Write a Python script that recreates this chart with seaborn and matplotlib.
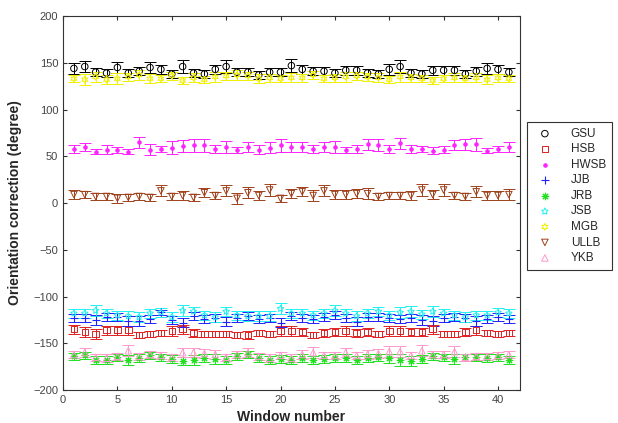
import numpy as np
import pandas as pd
import matplotlib
matplotlib.use("Agg")
import matplotlib.pyplot as plt
import seaborn as sns

sns.set_style("ticks")
plt.rcParams['font.family'] = ['Liberation Sans', 'DejaVu Sans']

windows = list(range(1, 42))

stations = ["GSU", "HSB", "HWSB", "JJB", "JRB", "JSB", "MGB", "ULLB", "YKB"]

gsu = [144, 146, 140, 139, 145, 139, 141, 145, 143, 138, 146, 139, 138, 143, 146, 140, 140, 137, 140, 140, 147,
       143, 141, 141, 139, 142, 142, 139, 138, 143, 146, 139, 138, 142, 142, 142, 138, 141, 144, 143, 140]
gsu_err = [6, 6, 4, 4, 6, 4, 4, 6, 5, 4, 7, 4, 4, 5, 7, 4, 4, 4, 4, 4, 7,
           5, 4, 4, 4, 5, 5, 4, 4, 6, 7, 4, 4, 5, 5, 5, 4, 5, 6, 5, 4]

hsb = [-135, -138, -140, -136, -136, -136, -141, -140, -139, -137, -135, -139, -140, -140, -140, -141, -141, -139, -140, -137, -137,
       -138, -141, -139, -138, -137, -139, -138, -140, -137, -137, -138, -138, -135, -140, -140, -138, -136, -139, -140, -139]
hsb_err = [5, 5, 5, 5, 5, 5, 3, 3, 3, 5, 5, 4, 3, 3, 3, 3, 4, 3, 3, 5, 5,
           4, 3, 4, 4, 5, 4, 4, 3, 5, 5, 4, 4, 5, 3, 3, 4, 5, 3, 3, 3]

hwsb = [58, 60, 55, 57, 57, 55, 65, 57, 58, 59, 61, 62, 62, 58, 60, 57, 60, 57, 59, 62, 60,
        60, 58, 60, 60, 57, 58, 63, 62, 58, 64, 58, 58, 56, 57, 62, 63, 63, 56, 58, 60]
hwsb_err = [4, 4, 3, 5, 3, 3, 6, 6, 3, 7, 6, 7, 7, 4, 6, 3, 5, 5, 6, 7, 5,
            5, 4, 5, 6, 3, 4, 6, 6, 4, 6, 4, 3, 4, 4, 5, 6, 7, 3, 3, 5]

jjb = [-123, -123, -125, -122, -122, -126, -126, -124, -117, -125, -128, -121, -124, -123, -127, -123, -121, -124, -123, -128, -121,
       -123, -124, -122, -120, -123, -127, -122, -122, -123, -124, -123, -125, -126, -123, -122, -123, -126, -124, -122, -124]
jjb_err = [4, 4, 5, 4, 4, 5, 5, 4, 3, 4, 5, 4, 4, 4, 5, 4, 4, 4, 4, 5, 4,
           4, 4, 4, 4, 4, 5, 4, 4, 4, 4, 4, 5, 5, 4, 4, 4, 5, 4, 4, 4]

jrb = [-164, -163, -168, -168, -165, -168, -166, -163, -165, -167, -169, -168, -166, -167, -168, -164, -162, -166, -168, -167, -168,
       -166, -168, -167, -166, -166, -168, -166, -165, -166, -168, -169, -167, -164, -165, -167, -165, -165, -166, -165, -168]
jrb_err = [4, 4, 4, 4, 4, 5, 4, 4, 4, 4, 4, 5, 4, 5, 4, 4, 4, 4, 4, 4, 4,
           4, 4, 4, 4, 4, 4, 4, 4, 5, 6, 5, 4, 4, 4, 5, 4, 4, 4, 4, 4]

jsb = [-118, -118, -115, -118, -120, -121, -122, -118, -117, -122, -115, -116, -120, -122, -116, -120, -121, -121, -121, -113, -118,
       -118, -120, -118, -115, -118, -121, -118, -116, -120, -117, -116, -119, -116, -118, -120, -122, -120, -120, -117, -118]
jsb_err = [5, 5, 6, 5, 5, 5, 5, 5, 5, 5, 6, 5, 5, 5, 5, 5, 5, 5, 5, 6, 5,
           5, 5, 5, 6, 5, 5, 5, 5, 5, 6, 6, 5, 6, 5, 5, 5, 5, 5, 5, 5]

mgb = [133, 132, 135, 132, 133, 135, 137, 133, 133, 136, 131, 134, 132, 135, 136, 137, 136, 133, 134, 133, 134,
       134, 137, 133, 134, 135, 136, 135, 134, 132, 135, 134, 133, 131, 133, 134, 133, 134, 132, 134, 133]
mgb_err = [4, 6, 5, 5, 6, 4, 5, 5, 4, 4, 4, 5, 4, 5, 4, 5, 4, 5, 4, 4, 5,
           4, 4, 4, 4, 5, 4, 4, 5, 4, 5, 4, 4, 4, 4, 5, 4, 5, 5, 4, 4]

ullb = [9, 9, 7, 7, 5, 6, 7, 6, 13, 7, 8, 6, 11, 8, 13, 5, 11, 8, 14, 5, 10,
        12, 8, 13, 9, 9, 10, 10, 7, 8, 8, 8, 14, 9, 14, 8, 7, 12, 8, 8, 9]
ullb_err = [5, 4, 4, 4, 5, 4, 4, 4, 6, 4, 5, 4, 5, 4, 6, 6, 6, 5, 6, 4, 5,
            5, 6, 6, 5, 5, 5, 6, 4, 4, 4, 5, 6, 5, 6, 4, 4, 6, 5, 5, 6]

ykb = [-162, -160, -165, -166, -164, -158, -164, -162, -163, -165, -160, -160, -161, -162, -165, -162, -160, -164, -166, -163, -166,
       -162, -160, -163, -163, -160, -163, -162, -161, -159, -159, -163, -158, -162, -162, -159, -165, -164, -164, -163, -162]
ykb_err = [4, 5, 4, 4, 4, 6, 4, 4, 4, 4, 5, 5, 5, 5, 4, 4, 5, 4, 4, 4, 4,
           5, 6, 4, 4, 5, 4, 5, 5, 6, 6, 4, 6, 4, 4, 6, 4, 4, 4, 4, 4]

values = [gsu, hsb, hwsb, jjb, jrb, jsb, mgb, ullb, ykb]
errors = [gsu_err, hsb_err, hwsb_err, jjb_err, jrb_err, jsb_err, mgb_err, ullb_err, ykb_err]

colors = ["#000000", "#e02020", "#ff20ff", "#2020ff", "#20e020", "#20f0f0", "#f0f000", "#a0401a", "#ff99cc"]
# MATLAB-like symbols: circle, square, dot, plus, asterisk, pentagram, hexagram, triangles
markers = ["o", "s", "o", "+", (8, 2, 0), (5, 1, 0), (6, 1, 0), "v", "^"]
open_marker = [True, True, False, False, False, True, True, True, True]
sizes = [22, 22, 6, 26, 22, 24, 24, 22, 22]

rows = []
for name, v, e in zip(stations, values, errors):
    for w, a, b in zip(windows, v, e):
        rows.append((name, w, a, b))
df = pd.DataFrame(rows, columns=["station", "window", "value", "err"])

fig = plt.figure(figsize=(6.18, 4.23), dpi=100)
ax = fig.add_axes([0.102, 0.078, 0.739, 0.884])

for name, c, m, op, sz in zip(stations, colors, markers, open_marker, sizes):
    sub = df[df["station"] == name]
    ax.errorbar(sub["window"], sub["value"], yerr=sub["err"], fmt="none",
                ecolor=c, elinewidth=0.7, capsize=4, capthick=0.7, zorder=2)
    if op:
        sns.scatterplot(x=sub["window"], y=sub["value"], ax=ax, marker=m, s=sz,
                        facecolor="none", edgecolor=c, linewidth=0.7, label=name, zorder=3)
    else:
        sns.scatterplot(x=sub["window"], y=sub["value"], ax=ax, marker=m, s=sz,
                        color=c, edgecolor=c, linewidth=0.8, label=name, zorder=3)

ax.set_xlim(0, 42)
ax.set_ylim(-200, 200)
ax.set_xticks(range(0, 41, 5))
ax.set_yticks(range(-200, 201, 50))
ax.tick_params(direction="in", top=True, right=True, length=3, labelsize=8, labelcolor="#444444", colors="#333333")
for s in ax.spines.values():
    s.set_color("#333333")
    s.set_linewidth(0.8)

ax.set_xlabel("Window number", fontsize=10, fontweight="bold", labelpad=4)
ax.set_ylabel("Orientation correction (degree)", fontsize=10, fontweight="bold", labelpad=8)

leg = ax.legend(loc="upper left", bbox_to_anchor=(0.853, 0.712), bbox_transform=fig.transFigure,
                fancybox=False, framealpha=1, edgecolor="#333333", fontsize=8.5, borderaxespad=0,
                handletextpad=1.2, borderpad=0.5, labelspacing=0.3, markerscale=1.0)
leg.get_frame().set_linewidth(0.8)

fig.savefig("out.png", dpi=100)
